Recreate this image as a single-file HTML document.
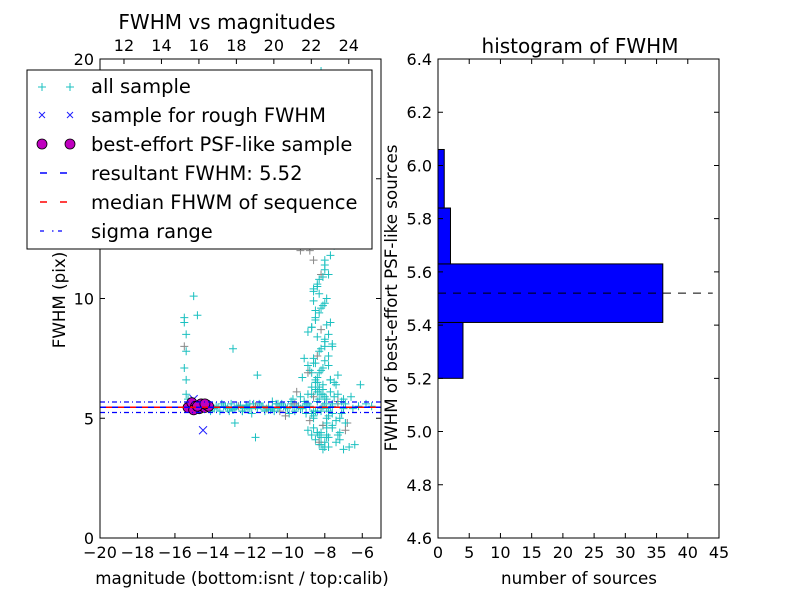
<!DOCTYPE html>
<html><head><meta charset="utf-8"><style>
body{margin:0;background:#fff;}
svg text{font-family:"DejaVu Sans","Liberation Sans",sans-serif;}
</style></head><body>
<svg id="fig" width="800" height="600" viewBox="0 0 800 600" xmlns="http://www.w3.org/2000/svg">
<rect width="800" height="600" fill="#fff"/>
<g id="left"></g>
<g id="right"></g>
</svg>
<script>
// ---- data ----
const allMag = [-15.5,-15.5,-15.4,-15.5,-15.4,-15.5,-15.4,-15.4,-15.3,-15.0,-14.8,-12.9,-11.6,-15.3,-15.2,-14.9,-14.6,-14.3,-14.0,-13.8,-13.6,-13.4,-13.2,-13.0,-12.8,-12.6,-12.4,-12.2,-12.0,-11.8,-11.6,-11.4,-11.2,-11.0,-10.8,-10.6,-10.4,-10.2,-10.0,-9.8,-9.6,-9.4,-9.2,-9.0,-8.8,-8.6,-8.4,-8.2,-8.0,-7.8,-7.6,-13.9,-13.5,-13.1,-12.7,-12.3,-11.9,-11.5,-11.1,-10.7,-10.3,-9.9,-9.5,-9.1,-8.7,-8.3,-7.9,-12.8,-11.7,-10.1,-9.3,-9.7,-10.8,-8.9,-8.5,-8.1,-7.7,-7.3,-8.8,-8.6,-8.4,-8.2,-8.0,-7.8,-8.7,-8.5,-8.3,-8.1,-7.9,-8.6,-8.4,-8.2,-8.0,-7.7,-7.5,-8.5,-8.3,-8.1,-7.9,-8.8,-8.6,-8.4,-8.2,-8.0,-9.1,-8.9,-8.7,-8.5,-8.3,-8.1,-7.9,-7.6,-7.2,-6.8,-8.6,-8.4,-8.2,-8.0,-7.8,-8.9,-8.7,-8.5,-8.3,-8.1,-8.8,-8.6,-8.4,-8.2,-9.2,-8.0,-7.6,-8.7,-8.5,-8.3,-8.1,-8.6,-8.4,-8.2,-8.8,-8.5,-8.3,-8.0,-8.7,-8.4,-8.2,-9.0,-8.6,-8.3,-8.5,-8.3,-8.5,-8.2,-7.4,-7.0,-6.7,-6.4,-8.3,-8.1,-7.9,-7.7,-7.5,-7.3,-7.2,-7.6,-8.0,-7.8,-6.6,-6.1,-9.5,-9.8,-7.1,-6.9,-7.9,-8.1,-7.3,-10.5,-11.3,-12.4,-12.0,-9.3,-7.8,-8.4,-8.0,-8.6,-8.9,
 -13.7,-13.3,-12.9,-12.5,-12.1,-11.7,-11.3,-10.9,-10.5,-10.1,-9.7,-9.3,-8.9,-8.5,-8.1,-7.7,-7.3,-6.9,-6.5,-6.2,-5.8,-5.5,-14.1,-13.0,-12.2,-11.0,-10.4,-9.6,-9.0,-8.6,-8.2,-7.8,-7.4,-7.0,-8.7,-8.4,-8.1,-7.8,-8.9,-8.3,-8.0,-7.6,-8.5,-8.2,-7.9,-8.6,-8.3,-8.0,-7.7,-8.8,-8.5,-8.1,-7.5,-8.4,-8.0,-7.8,-8.6,-8.2,-7.9,-7.3,-8.3,-7.9,-7.6,-7.1,-8.1,-7.7,-8.4,-8.7,-7.4,-7.0,-7.2,-6.9,-8.2,-7.9,-7.6,-8.0,-7.7,-8.4,-8.1];
const allFwhm = [9.2,9.0,8.5,8.0,7.8,7.1,6.6,6.0,5.8,10.1,9.3,7.9,6.8,5.5,5.6,5.5,5.4,5.5,5.4,5.5,5.3,5.5,5.4,5.6,5.4,5.5,5.3,5.5,5.4,5.6,5.4,5.5,5.3,5.5,5.4,5.6,5.3,5.5,5.4,5.6,5.3,5.5,5.4,5.6,5.5,5.3,5.7,5.4,5.6,5.3,5.5,5.4,5.6,5.3,5.5,5.4,5.2,5.6,5.4,5.3,5.6,5.2,5.5,5.7,5.2,5.8,5.4,4.8,4.2,5.1,5.9,5.8,5.7,6.0,6.2,6.4,6.6,6.8,7.0,7.3,7.6,7.9,8.2,8.5,8.8,9.1,9.4,9.7,10.0,10.3,10.6,11.0,11.4,11.8,12.2,12.6,13.0,13.4,13.8,14.2,14.7,8.4,8.7,8.0,7.5,7.2,6.9,6.5,6.2,6.0,5.8,5.6,5.0,4.8,4.6,4.4,4.2,4.0,3.8,4.5,4.3,4.1,3.9,4.7,4.9,5.1,5.3,6.0,6.7,7.4,8.1,8.8,9.5,10.2,10.9,11.6,12.3,13.0,13.7,14.4,15.2,16.0,17.0,18.0,19.5,5.5,5.9,6.3,6.6,6.9,7.3,4.4,4.0,3.7,3.8,3.9,4.3,4.7,5.0,6.1,6.5,5.6,4.4,4.6,3.8,4.2,5.9,6.4,6.1,5.7,5.2,4.8,4.3,3.7,6.0,5.4,5.5,5.3,5.6,12.0,11.0,10.5,9.8,9.9,8.6,
 5.45,5.5,5.35,5.55,5.4,5.5,5.45,5.35,5.6,5.45,5.5,5.4,5.6,5.3,5.5,5.45,5.7,5.6,5.4,5.5,5.6,5.5,5.3,5.45,5.55,5.35,5.5,5.6,5.2,5.0,5.3,5.1,4.9,5.4,6.3,6.7,7.1,7.6,6.9,7.8,8.3,8.0,9.2,9.6,8.9,10.4,10.8,11.2,9.0,12.0,12.4,6.2,5.9,6.5,11.6,7.2,7.5,7.0,4.6,4.3,4.0,4.8,5.2,5.7,12.8,13.2,4.4,6.0,6.4,5.8,4.1,4.5,3.9,4.2,4.7,5.9,6.6,6.1];
const roughMag = [-14.5,-15.0,-14.6];
const roughFwhm = [4.5,5.8,5.5];
const psfMag = [-15.3,-15.1,-14.9,-14.7,-14.6,-14.5,-14.4,-14.3,-14.2,-15.0,-14.8,-14.4];
const psfFwhm = [5.45,5.65,5.5,5.4,5.6,5.5,5.45,5.55,5.5,5.35,5.5,5.6];
const resultFwhm = 5.46, sigmaFwhm = 0.22;
const binEdges = [5.20,5.41,5.63,5.84,6.06];
const binCounts = [4,36,2,1];
const xTicksB = [-20,-18,-16,-14,-12,-10,-8,-6];
const xTicksT = [12,14,16,18,20,22,24];
const yTicksL = [0,5,10,15,20];
const xTicksH = [0,5,10,15,20,25,30,35,40,45];
const yTicksH = [4.6,4.8,5.0,5.2,5.4,5.6,5.8,6.0,6.2,6.4];

const NS="http://www.w3.org/2000/svg";
function mk(parent,tag,attrs){const e=document.createElementNS(NS,tag);for(const k in attrs)e.setAttribute(k,attrs[k]);parent.appendChild(e);return e;}
const L={x0:100,x1:381,y0:538,y1:59};
const lx=m=>L.x0+(m+20)/15*(L.x1-L.x0);
const ly=f=>L.y0-f/20*(L.y0-L.y1);
const calibOff=30.72;
const left=document.getElementById('left');
allMag.forEach((m,i)=>{const x=lx(m),y=ly(allFwhm[i]);
 if(y<L.y1||x>L.x1) return;
 const g=mk(left,'path',{d:`M${x-4},${y}H${x+4}M${x},${y-4}V${y+4}`,stroke:(i%11==3?'#888':'#1bc0c0'),'stroke-width':1});
 
 });
roughMag.forEach((m,i)=>{const x=lx(m),y=ly(roughFwhm[i]);
 const g=mk(left,'path',{d:`M${x-4},${y-4}L${x+4},${y+4}M${x-4},${y+4}L${x+4},${y-4}`,stroke:'#2020ff','stroke-width':1});
 
 });
psfMag.forEach((m,i)=>{const c=mk(left,'circle',{cx:lx(m),cy:ly(psfFwhm[i]),r:5,fill:'#bf00bf',stroke:'#000','stroke-width':0.8});
 
 });
let ln=mk(left,'line',{x1:L.x0,x2:L.x1,y1:ly(resultFwhm),y2:ly(resultFwhm),stroke:'#0000ff','stroke-width':1.5,'stroke-dasharray':'6 6'});

ln=mk(left,'line',{x1:L.x0+6,x2:L.x1,y1:ly(resultFwhm),y2:ly(resultFwhm),stroke:'#ff0000','stroke-width':1.5,'stroke-dasharray':'6 6'});

[resultFwhm+sigmaFwhm,resultFwhm-sigmaFwhm].forEach(v=>{const l=mk(left,'line',{x1:L.x0,x2:L.x1,y1:ly(v),y2:ly(v),stroke:'#0000ff','stroke-width':1.2,'stroke-dasharray':'5 3 1 3'});
 });
let fr=mk(left,'rect',{x:L.x0,y:L.y1,width:L.x1-L.x0,height:L.y0-L.y1,fill:'none',stroke:'#000','stroke-width':1});

xTicksB.forEach(t=>{const x=lx(t);mk(left,'path',{d:`M${x},${L.y0}v-5`,stroke:'#000'});
 const tx=mk(left,'text',{x:x,y:L.y0+20,'font-size':16,'text-anchor':'middle'});tx.textContent='\u2212'+Math.abs(t);
 });
xTicksT.forEach(t=>{const x=lx(t-calibOff);mk(left,'path',{d:`M${x},${L.y1}v5`,stroke:'#000'});
 const tx=mk(left,'text',{x:x,y:L.y1-8,'font-size':16,'text-anchor':'middle'});tx.textContent=t;
 });
yTicksL.forEach(t=>{const y=ly(t);mk(left,'path',{d:`M${L.x0},${y}h5M${L.x1},${y}h-5`,stroke:'#000'});
 const tx=mk(left,'text',{x:L.x0-6,y:y+6,'font-size':16,'text-anchor':'end'});tx.textContent=t;
 });
const R={x0:438,x1:719,y0:538,y1:59};
const hx=c=>R.x0+c/45*(R.x1-R.x0);
const hy=v=>R.y0-(v-4.6)/1.8*(R.y0-R.y1);
const right=document.getElementById('right');
binCounts.forEach((c,i)=>{const r=mk(right,'rect',{x:R.x0,y:hy(binEdges[i+1]),width:hx(c)-R.x0,height:hy(binEdges[i])-hy(binEdges[i+1]),fill:'#0000ff',stroke:'#000','stroke-width':1});
 });
ln=mk(right,'line',{x1:R.x0,x2:hx(44),y1:hy(resultFwhm+0.06),y2:hy(resultFwhm+0.06),stroke:'#000','stroke-width':1,'stroke-dasharray':'8 7'});

fr=mk(right,'rect',{x:R.x0,y:R.y1,width:R.x1-R.x0,height:R.y0-R.y1,fill:'none',stroke:'#000','stroke-width':1});

xTicksH.forEach(t=>{const x=hx(t);mk(right,'path',{d:`M${x},${R.y0}v-5M${x},${R.y1}v5`,stroke:'#000'});
 const tx=mk(right,'text',{x:x,y:R.y0+20,'font-size':16,'text-anchor':'middle'});tx.textContent=t;
 });
yTicksH.forEach(t=>{const y=hy(t);mk(right,'path',{d:`M${R.x0},${y}h5M${R.x1},${y}h-5`,stroke:'#000'});
 const tx=mk(right,'text',{x:R.x0-6,y:y+6,'font-size':16,'text-anchor':'end'});tx.textContent=t.toFixed(1);
 });
</script>
<svg width="800" height="600" style="position:absolute;left:0;top:0" xmlns="http://www.w3.org/2000/svg">
<text x="227" y="29" font-size="20" text-anchor="middle">FWHM vs magnitudes</text>
<text x="580" y="53" font-size="20" text-anchor="middle">histogram of FWHM</text>
<text x="242" y="584" font-size="16.7" text-anchor="middle">magnitude (bottom:isnt / top:calib)</text>
<text x="579" y="584" font-size="16.7" text-anchor="middle">number of sources</text>
<text transform="translate(65,300) rotate(-90)" font-size="16.7" text-anchor="middle">FWHM (pix)</text>
<text transform="translate(397,298) rotate(-90)" font-size="16.7" text-anchor="middle">FWHM of best-effort PSF-like sources</text>
<g>
<rect x="27" y="70" width="345" height="179" fill="#fff" stroke="#000" stroke-width="1"/>
<path d="M38,87h8M42,83v8M66,87h8M70,83v8" stroke="#1bc0c0"/>
<text x="91" y="93" font-size="19.5">all sample</text>
<path d="M39,112l6,6M39,118l6,-6M67,112l6,6M67,118l6,-6" stroke="#2020ff"/>
<text x="91" y="122" font-size="19.5">sample for rough FWHM</text>
<circle cx="42" cy="144" r="5" fill="#bf00bf" stroke="#000" stroke-width="0.8"/><circle cx="70" cy="144" r="5" fill="#bf00bf" stroke="#000" stroke-width="0.8"/>
<text x="91" y="151" font-size="19.5">best-effort PSF-like sample</text>
<path d="M40,173h7M60,173h7" stroke="#0000ff" stroke-width="1.5"/>
<text x="91" y="180" font-size="19.5">resultant FWHM: 5.52</text>
<path d="M40,202h7M60,202h7" stroke="#ff0000" stroke-width="1.5"/>
<text x="91" y="209" font-size="19.5">median FHWM of sequence</text>
<path d="M40,231h4M52,231h1.5M58,231h4" stroke="#0000ff" stroke-width="1.3"/>
<text x="91" y="238" font-size="19.5">sigma range</text>
</g>
</svg>
</body></html>
